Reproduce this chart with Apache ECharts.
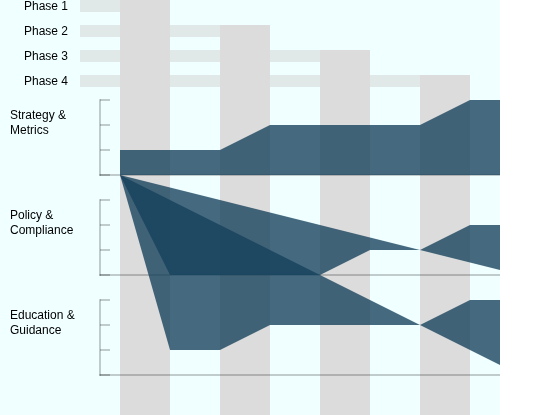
<!DOCTYPE html>
<html>
<head>
<meta charset="utf-8">
<script src="https://cdn.jsdelivr.net/npm/echarts@6/dist/echarts.min.js"></script>
<style>
  html, body { margin: 0; padding: 0; background: #ffffff; }
  #chart { width: 500px; height: 415px; }
</style>
</head>
<body>
<div id="chart"></div>
<script>
// ---- data ----
const phases = ['Phase 1', 'Phase 2', 'Phase 3', 'Phase 4'];
const practices = ['Strategy &\nMetrics', 'Policy &\nCompliance', 'Education &\nGuidance'];
const steps = [0, 1, 2, 3, 4, 5, 6, 7, 8];
const strategyMetrics   = [1, 1, 1, 2, 2, 2, 2, 3, 3];
const policyCompliance  = [null, 0, 0, 0, 0, 1, 1, 2, 2];
const educationGuidance = [null, 1, 1, 2, 2, 2, 2, 3, 3];
const levelTicks = [0, 1, 2, 3];

const practiceLevels = [strategyMetrics, policyCompliance, educationGuidance];

// ---- layout helpers (main coordinate frame: x in steps, y in rows of 25px) ----
const ROWS = 16.6;
const FONT = '"Liberation Sans", Arial, Helvetica, sans-serif';
const FILL = 'rgba(21,64,91,0.78)';
const AXIS = 'rgba(0,0,0,0.2)';
const panelBase = k => 7 + 4 * k;            // baseline row of panel k
const panelRow = (k, v) => panelBase(k) - v; // row of value v in panel k

const grids = [{ left: 0, top: 0, width: 500, height: 415 }];
const xAxes = [{ type: 'value', gridIndex: 0, min: -2.4, max: 7.6, show: false }];
const yAxes = [{ type: 'value', gridIndex: 0, min: 0, max: ROWS, inverse: true, show: false }];
practices.forEach((p, k) => {
  grids.push({ left: 100, top: 100 + 100 * k, width: 400, height: 75 });
  xAxes.push({
    type: 'value', gridIndex: k + 1, min: -0.4, max: 7.6, z: 3,
    axisLine: { show: true, onZero: false, lineStyle: { color: AXIS, width: 2 } },
    axisTick: { show: false }, axisLabel: { show: false }, splitLine: { show: false }
  });
  yAxes.push({
    type: 'value', gridIndex: k + 1, min: levelTicks[0], max: levelTicks[levelTicks.length - 1], interval: 1, z: 3,
    axisLine: { show: true, onZero: false, lineStyle: { color: AXIS, width: 2 } },
    axisTick: { show: true, inside: true, length: 10, lineStyle: { color: AXIS, width: 2 } },
    axisLabel: { show: false }, splitLine: { show: false }
  });
});

const chart = echarts.init(document.getElementById('chart'), null, { renderer: 'canvas' });

const option = {
  backgroundColor: '#f0ffff',
  animation: false,
  grid: grids,
  xAxis: xAxes,
  yAxis: yAxes,
  series: [
    // phase label bars + labels
    {
      type: 'custom', xAxisIndex: 0, yAxisIndex: 0, z: 1,
      data: phases.map((p, i) => [i]),
      renderItem: (params, api) => {
        const i = params.dataIndex;
        const a = api.coord([-0.8, i]);
        const b = api.coord([2 * i + 1, i + 0.48]);
        const t = api.coord([-1.92, i + 0.27]);
        return {
          type: 'group',
          children: [
            { type: 'rect', shape: { x: a[0], y: a[1], width: b[0] - a[0], height: b[1] - a[1] },
              style: { fill: '#e1e8e8' } },
            { type: 'text', style: { x: t[0], y: t[1], text: phases[i], fill: '#000',
              fontSize: 12, fontFamily: FONT, verticalAlign: 'middle', align: 'left' } }
          ]
        };
      }
    },
    // phase columns
    {
      type: 'custom', xAxisIndex: 0, yAxisIndex: 0, z: 2,
      data: phases.map((p, i) => [i]),
      renderItem: (params, api) => {
        const i = params.dataIndex;
        const a = api.coord([2 * i, i]);
        const b = api.coord([2 * i + 1, ROWS]);
        return { type: 'rect', shape: { x: a[0], y: a[1], width: b[0] - a[0], height: b[1] - a[1] },
          style: { fill: '#dcdcdc' } };
      }
    },
    // practice maturity shapes
    {
      type: 'custom', xAxisIndex: 0, yAxisIndex: 0, z: 4,
      data: practices.map((p, k) => [k]),
      renderItem: (params, api) => {
        const k = params.dataIndex;
        const levels = practiceLevels[k];
        const pts = [api.coord([steps[0], panelBase(0)])];
        steps.forEach((s, j) => {
          if (levels[j] !== null) pts.push(api.coord([s, panelRow(k, levels[j])]));
        });
        pts.push(api.coord([steps[steps.length - 1], panelBase(k)]));
        return { type: 'polygon', shape: { points: pts }, style: { fill: FILL } };
      }
    },
    // practice labels
    {
      type: 'custom', xAxisIndex: 0, yAxisIndex: 0, z: 5,
      data: practices.map((p, k) => [k]),
      renderItem: (params, api) => {
        const k = params.dataIndex;
        const t = api.coord([-2.2, panelBase(k) - 3 + 0.33]);
        return { type: 'text', style: { x: t[0], y: t[1], text: practices[k], fill: '#000',
          fontSize: 12, fontFamily: FONT, verticalAlign: 'top', align: 'left', lineHeight: 15 } };
      }
    }
  ]
};
chart.setOption(option);
</script>
</body>
</html>
